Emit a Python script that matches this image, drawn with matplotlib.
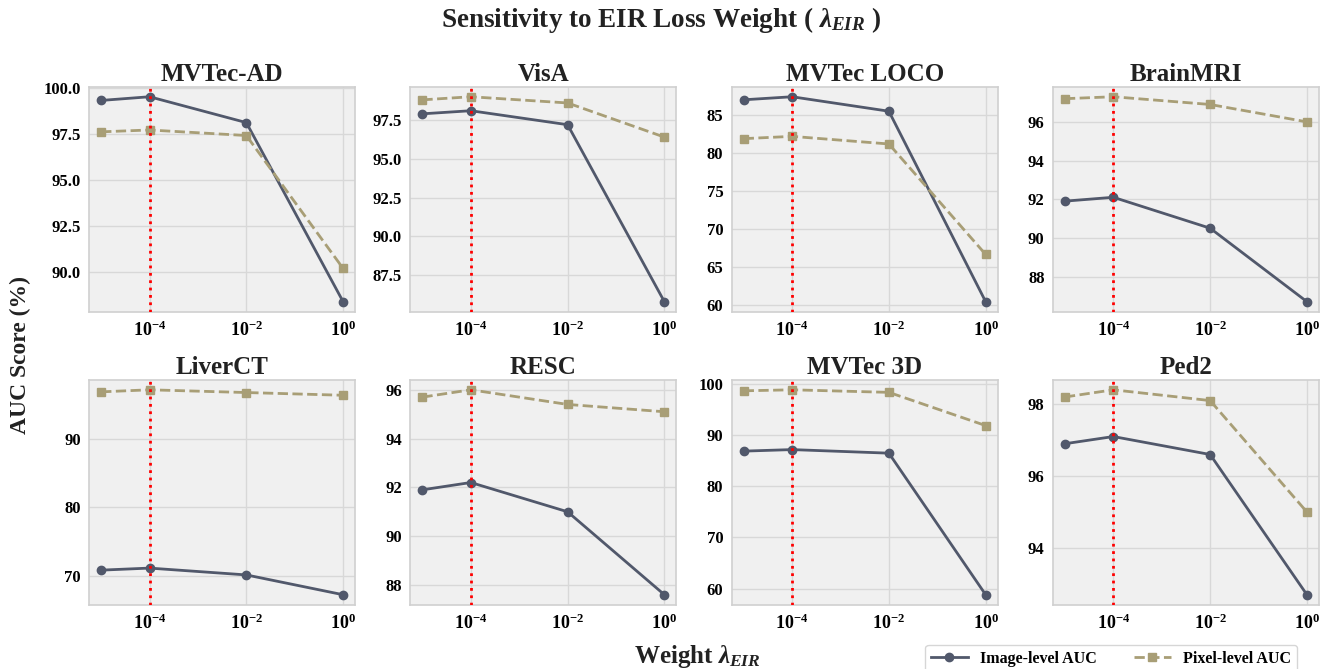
import matplotlib
matplotlib.use("Agg")
import matplotlib.pyplot as plt
import numpy as np

# ---------------- data ----------------
weights = [1e-5, 1e-4, 1e-2, 1e0]
datasets = ["MVTec-AD", "VisA", "MVTec LOCO", "BrainMRI",
            "LiverCT", "RESC", "MVTec 3D", "Ped2"]
image_auc = {
    "MVTec-AD":   [99.3, 99.5, 98.1, 88.4],
    "VisA":       [97.9, 98.1, 97.2, 85.8],
    "MVTec LOCO": [87.0, 87.4, 85.5, 60.5],
    "BrainMRI":   [91.9, 92.1, 90.5, 86.7],
    "LiverCT":    [70.8, 71.1, 70.1, 67.2],
    "RESC":       [91.9, 92.2, 91.0, 87.6],
    "MVTec 3D":   [86.9, 87.2, 86.5, 58.8],
    "Ped2":       [96.9, 97.1, 96.6, 92.7],
}
pixel_auc = {
    "MVTec-AD":   [97.6, 97.7, 97.4, 90.2],
    "VisA":       [98.8, 99.0, 98.6, 96.4],
    "MVTec LOCO": [81.9, 82.2, 81.2, 66.7],
    "BrainMRI":   [97.2, 97.3, 96.9, 96.0],
    "LiverCT":    [96.9, 97.2, 96.8, 96.4],
    "RESC":       [95.7, 96.0, 95.4, 95.1],
    "MVTec 3D":   [98.7, 98.9, 98.4, 91.9],
    "Ped2":       [98.2, 98.4, 98.1, 95.0],
}
yticks = {
    "MVTec-AD":   [90.0, 92.5, 95.0, 97.5, 100.0],
    "VisA":       [87.5, 90.0, 92.5, 95.0, 97.5],
    "MVTec LOCO": [60, 65, 70, 75, 80, 85],
    "BrainMRI":   [88, 90, 92, 94, 96],
    "LiverCT":    [70, 80, 90],
    "RESC":       [88, 90, 92, 94, 96],
    "MVTec 3D":   [60, 70, 80, 90, 100],
    "Ped2":       [94, 96, 98],
}
ytick_fmt = {"MVTec-AD": "{:.1f}", "VisA": "{:.1f}"}
xticks = [1e-4, 1e-2, 1e0]
best_weight = 1e-4

# ---------------- style ----------------
plt.rcParams["font.family"] = ["Liberation Serif", "DejaVu Serif"]
plt.rcParams["font.weight"] = "bold"
plt.rcParams["mathtext.fontset"] = "custom"
plt.rcParams["mathtext.rm"] = "Liberation Serif:bold"
plt.rcParams["mathtext.it"] = "Liberation Serif:italic:bold"
plt.rcParams["mathtext.bf"] = "Liberation Serif:bold"
plt.rcParams["mathtext.default"] = "it"

img_color = "#51586b"
pix_color = "#a89e76"
bg_color = "#f0f0f0"
grid_color = "#d8d8d8"

fig, axes = plt.subplots(2, 4, figsize=(13.23, 6.69), dpi=100)
fig.subplots_adjust(left=0.0673, right=0.997, top=0.8707, bottom=0.0957,
                    wspace=0.207, hspace=0.30)

for ax, name in zip(axes.flat, datasets):
    ax.set_facecolor(bg_color)
    ax.plot(weights, image_auc[name], color=img_color, lw=2.0, marker="o",
            markersize=6, label="Image-level AUC", zorder=3)
    ax.plot(weights, pixel_auc[name], color=pix_color, lw=2.0, ls="--",
            marker="s", markersize=6, label="Pixel-level AUC", zorder=3)
    ax.axvline(best_weight, color="red", ls=":", lw=2.0, zorder=4)
    ax.set_xscale("log")
    ax.set_xticks(xticks)
    ax.xaxis.set_minor_locator(matplotlib.ticker.NullLocator())
    ax.set_yticks(yticks[name])
    fmt = ytick_fmt.get(name, "{:.0f}")
    ax.set_yticklabels([fmt.format(v) for v in yticks[name]])
    ax.grid(True, color=grid_color, lw=1.0, zorder=0)
    ax.set_axisbelow(True)
    ax.tick_params(axis="y", length=0, pad=6, labelsize=12)
    ax.tick_params(axis="x", length=0, pad=6, labelsize=13)
    for s in ax.spines.values():
        s.set_color("#d0d0d0")
        s.set_linewidth(1.2)
    ax.set_title(name, fontsize=18, fontweight="bold", pad=4, color="#222222")

fig.text(0.5, 1 - 20 / 669, r"Sensitivity to EIR Loss Weight ( $\lambda_{EIR}$ )",
         ha="center", va="center", fontsize=19.5, fontweight="bold", color="#222222")
fig.text(20 / 1323, 1 - 355 / 669, "AUC Score (%)", rotation=90,
         ha="center", va="center", fontsize=17, fontweight="bold", color="#222222")
fig.text(697 / 1323, 1 - 656 / 669, r"Weight $\lambda_{EIR}$",
         ha="center", va="center", fontsize=18, fontweight="bold", color="#222222")

handles, labels = axes.flat[0].get_legend_handles_labels()
leg = fig.legend(handles, labels, loc="upper right",
                 bbox_to_anchor=(1297 / 1323, 1 - 645 / 669), ncol=2,
                 fontsize=11.5, handlelength=2.3, columnspacing=2.3,
                 borderaxespad=0.0, borderpad=0.35,
                 frameon=True, fancybox=True)
leg.get_frame().set_edgecolor("#cccccc")
leg.get_frame().set_facecolor("white")

fig.savefig("out.png", dpi=100)
